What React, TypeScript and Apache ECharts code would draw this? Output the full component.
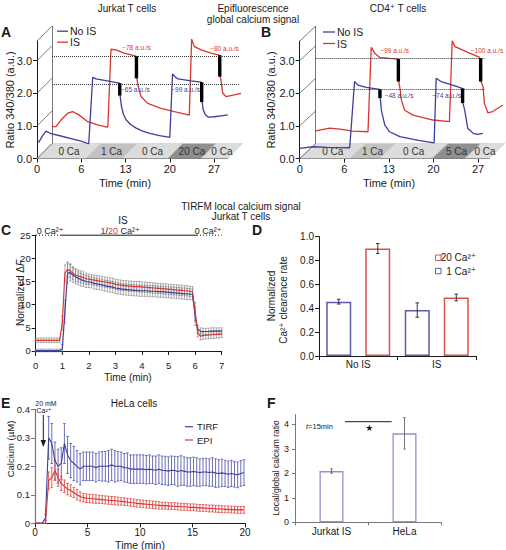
import React, { useEffect, useRef } from 'react';
import * as echarts from 'echarts';

const FONT = '"Liberation Sans", Arial, "DejaVu Sans", sans-serif';
const BLUE = '#3c3f9b';
const RED = '#d8362f';
const INK = '#1a1a1a';

// ---------- Panel A : Jurkat T cells (epifluorescence) ----------
const A_X_TICKS = ['0', '6', '13', '20', '27'];
const A_TICK_POS = [0, 6.5, 13, 19.5, 26];
const A_NO_IS = [[0, 0.53], [0.3, 0.51], [0.84, 0.71], [1.32, 0.84], [2.06, 0.76], [3.5, 0.69], [5, 0.61], [6.46, 0.53], [7.44, 0.46], [7.6, 0.46], [8.18, 2.49], [8.66, 2.44], [10.1, 2.39], [12.1, 2.31], [12.2, 1.93], [12.4, 1.6], [12.7, 1.35], [13.1, 1.18], [13.7, 1.05], [14.5, 0.94], [15.5, 0.84], [16.7, 0.76], [18, 0.7], [19.5, 0.65], [19.9, 2.59], [20.3, 2.5], [20.7, 2.44], [22.6, 2.38], [24.1, 2.34], [24.25, 1.73], [24.4, 1.5], [24.7, 1.35], [25.1, 1.27], [26, 1.28], [27, 1.31], [28, 1.34]];
const A_NO_IS_CLEAR = [[12.15, 2.31, 1.93], [24.18, 2.34, 1.73]];
const A_IS = [[0, 0.52], [0.59, 0.52], [1.32, 0.72], [2.3, 0.93], [3.04, 0.98], [4.0, 0.87], [5.24, 0.67], [6.7, 0.57], [8.08, 0.5], [8.2, 0.52], [8.66, 2.89], [9.4, 2.87], [10.6, 2.77], [12.33, 2.68], [12.45, 2.0], [12.67, 1.74], [13.07, 1.44], [14.05, 1.23], [16.0, 1.08], [17.96, 0.98], [20.16, 0.87], [20.5, 3.2], [20.9, 2.97], [21.9, 2.87], [23.35, 2.77], [24.57, 2.71], [24.7, 2.05], [24.8, 1.95], [25.07, 1.54], [25.55, 1.44], [26.77, 1.49], [27.75, 1.54]];
const A_IS_CLEAR = [[12.4, 2.68, 2.0], [24.63, 2.71, 2.05]];
const A_DOT_LEVELS = [2.68, 1.82];
const A_DOT_END = 27.6;
const A_FLOOR: [number, number, string][] = [[0, 7.2, '0 Ca'], [7.2, 12.5, '1 Ca'], [12.5, 19.2, '0 Ca'], [19.2, 24.1, '20 Ca'], [24.1, 28, '0 Ca']];

// ---------- Panel B : CD4+ T cells ----------
const B_NO_IS = [[0, 0.31], [1.94, 0.36], [4, 0.34], [7.29, 0.33], [8.0, 2.36], [8.5, 2.25], [9.7, 2.18], [11.66, 2.12], [11.75, 1.85], [11.9, 1.49], [12.4, 1.03], [13.1, 0.82], [14.6, 0.67], [17.5, 0.55], [19.6, 0.48], [19.9, 2.46], [20.6, 2.36], [22.3, 2.25], [23.7, 2.15], [23.8, 1.7], [24.05, 1.49], [24.5, 0.93], [25.3, 0.77], [26.0, 0.74], [26.7, 0.77]];
const B_NO_IS_CLEAR = [[11.7, 2.12, 1.85], [23.75, 2.15, 1.7]];
const B_IS = [[0, 0.39], [2.04, 0.47], [3.5, 0.44], [5.44, 0.38], [7.62, 0.36], [8.1, 2.95], [8.6, 2.77], [9.33, 2.64], [10.8, 2.61], [12.0, 2.59], [12.1, 1.9], [12.25, 1.74], [12.5, 1.33], [12.97, 1.02], [14.2, 0.87], [17.1, 0.72], [19.5, 0.67], [19.9, 3.15], [20.3, 2.97], [21.95, 2.82], [23.9, 2.64], [24.1, 1.9], [24.4, 1.74], [24.6, 1.23], [25.1, 0.94], [25.8, 0.98], [27.3, 1.18]];
const B_IS_CLEAR = [[12.05, 2.59, 1.9], [24.05, 2.62, 1.9]];
const B_DOT_LEVELS = [2.61, 1.66];
const B_DOT_END = 24.6;
const B_FLOOR: [number, number, string][] = [[0, 7.3, '0 Ca'], [7.3, 11.6, '1 Ca'], [11.6, 19.3, '0 Ca'], [19.3, 24.1, '5 Ca'], [24.1, 27.6, '0 Ca']];

const DEPTH_TICKS = [0, 1, 2, 3, 3.6];
const AB_Y_TICKS = [0, 1, 2, 3];

// ---------- Panel C : TIRFM local calcium (Jurkat) ----------
const C_TIME = [0, 0.1, 0.2, 0.3, 0.4, 0.5, 0.6, 0.7, 0.8, 0.9, 1.0, 1.1, 1.2, 1.3, 1.4, 1.5, 1.6, 1.7, 1.8, 1.9, 2.0, 2.1, 2.2, 2.3, 2.4, 2.5, 2.6, 2.7, 2.8, 2.9, 3.0, 3.1, 3.2, 3.3, 3.4, 3.5, 3.6, 3.7, 3.8, 3.9, 4.0, 4.1, 4.2, 4.3, 4.4, 4.5, 4.6, 4.7, 4.8, 4.9, 5.0, 5.1, 5.2, 5.3, 5.4, 5.5, 5.6, 5.7, 5.8, 5.9, 6.0, 6.1, 6.2, 6.3, 6.4, 6.5, 6.6, 6.7, 6.8, 6.9, 7.0];
const C_BLUE = [0.1, 0.1, 0.1, 0.1, 0.1, 0.1, 0.1, 0.1, 0.1, 0.1,
  0.4, 8.5, 16.8, 16.9, 16.4, 16.0, 15.7, 15.4, 15.2, 15.0,
  14.9, 14.8, 14.6, 14.5, 14.4, 14.3, 14.1, 14.0, 13.9, 13.8,
  13.6, 13.5, 13.4, 13.3, 13.3, 13.2, 13.2, 13.1, 13.1, 13.0,
  13.0, 13.0, 13.0, 12.9, 12.9, 12.9, 12.8, 12.8, 12.8, 12.7,
  12.7, 12.6, 12.6, 12.5, 12.5, 12.4, 12.4, 12.3, 12.3, 12.2,
  7.5, 4.7, 4.3, 4.2, 4.2, 4.2, 4.3, 4.3, 4.3, 4.3, 4.3];
const C_BLUE_ERR = [0.3, 0.3, 0.3, 0.3, 0.3, 0.3, 0.3, 0.3, 0.3, 0.3,
  1.0, 2.5, 2.2, 1.8, 1.6, 1.5, 1.4, 1.4, 1.3, 1.3,
  1.2, 1.2, 1.2, 1.2, 1.2, 1.2, 1.2, 1.2, 1.2, 1.2,
  1.2, 1.2, 1.2, 1.2, 1.2, 1.2, 1.2, 1.2, 1.2, 1.2,
  1.2, 1.2, 1.2, 1.2, 1.2, 1.2, 1.2, 1.2, 1.2, 1.2,
  1.2, 1.2, 1.2, 1.2, 1.2, 1.2, 1.2, 1.2, 1.2, 1.2,
  2.0, 0.8, 0.7, 0.7, 0.7, 0.7, 0.7, 0.7, 0.7, 0.7, 0.7];
const C_RED = [2.3, 2.3, 2.3, 2.3, 2.3, 2.3, 2.3, 2.3, 2.3, 2.3,
  6.0, 16.8, 17.6, 17.3, 16.8, 16.4, 16.2, 16.0, 15.8, 15.6,
  15.5, 15.4, 15.3, 15.2, 15.1, 15.0, 14.9, 14.8, 14.7, 14.6,
  14.4, 14.3, 14.2, 14.1, 14.1, 14.0, 14.0, 13.9, 13.9, 13.9,
  13.8, 13.8, 13.7, 13.7, 13.6, 13.6, 13.5, 13.5, 13.4, 13.4,
  13.3, 13.3, 13.2, 13.2, 13.1, 13.1, 13.0, 13.0, 12.9, 12.8,
  8.5, 3.8, 3.2, 3.3, 3.4, 3.4, 3.5, 3.5, 3.6, 3.6, 3.7];
const C_RED_ERR = [0.5, 0.5, 0.5, 0.5, 0.5, 0.5, 0.5, 0.5, 0.5, 0.5,
  1.5, 1.8, 1.6, 1.5, 1.4, 1.4, 1.3, 1.3, 1.3, 1.2,
  1.1, 1.1, 1.1, 1.1, 1.1, 1.1, 1.1, 1.1, 1.1, 1.1,
  1.1, 1.1, 1.1, 1.1, 1.1, 1.1, 1.1, 1.1, 1.1, 1.1,
  1.1, 1.1, 1.1, 1.1, 1.1, 1.1, 1.1, 1.1, 1.1, 1.1,
  1.1, 1.1, 1.1, 1.1, 1.1, 1.1, 1.1, 1.1, 1.1, 1.1,
  2.0, 0.8, 0.8, 0.8, 0.8, 0.8, 0.8, 0.8, 0.8, 0.8, 0.8];

// ---------- Panel D : clearance rate ----------
const D_CATS = ['No IS', 'IS'];
const D_1CA = [0.455, 0.385];
const D_1CA_ERR = [0.02, 0.06];
const D_20CA = [0.9, 0.49];
const D_20CA_ERR = [0.042, 0.028];

// ---------- Panel E : HeLa cells ----------
const E_TIME = [0.1, 0.4, 0.7, 1.0, 1.3, 1.6, 1.9, 2.2, 2.5, 2.8, 3.1, 3.4, 3.7, 4.0, 4.3, 4.6, 4.9, 5.2, 5.5, 5.8, 6.1, 6.4, 6.7, 7.0, 7.3, 7.6, 7.9, 8.2, 8.5, 8.8, 9.1, 9.4, 9.7, 10.0, 10.3, 10.6, 10.9, 11.2, 11.5, 11.8, 12.1, 12.4, 12.7, 13.0, 13.3, 13.6, 13.9, 14.2, 14.5, 14.8, 15.1, 15.4, 15.7, 16.0, 16.3, 16.6, 16.9, 17.2, 17.5, 17.8, 18.1, 18.4, 18.7, 19.0, 19.3, 19.6, 19.9];
const E_TIRF = [0, 0, 0, 0.02, 0.30, 0.28, 0.22, 0.20, 0.21, 0.28,
  0.24, 0.22, 0.21, 0.20, 0.19, 0.20, 0.20, 0.20, 0.20, 0.195,
  0.20, 0.20, 0.20, 0.20, 0.205, 0.20, 0.20, 0.20, 0.195, 0.195,
  0.19, 0.19, 0.19, 0.19, 0.19, 0.188, 0.19, 0.188, 0.186, 0.19,
  0.186, 0.185, 0.183, 0.186, 0.185, 0.182, 0.185, 0.183, 0.18, 0.18,
  0.182, 0.18, 0.178, 0.18, 0.18, 0.178, 0.18, 0.176, 0.175, 0.177,
  0.175, 0.172, 0.175, 0.172, 0.17, 0.175, 0.178];
const E_TIRF_ERR = [0, 0, 0, 0.01, 0.075, 0.07, 0.065, 0.06, 0.055, 0.07,
  0.065, 0.06, 0.06, 0.055, 0.055, 0.05, 0.05, 0.05, 0.05, 0.05,
  0.05, 0.052, 0.052, 0.055, 0.055, 0.055, 0.052, 0.05, 0.05, 0.052,
  0.05, 0.05, 0.05, 0.05, 0.05, 0.05, 0.05, 0.048, 0.05, 0.05,
  0.05, 0.05, 0.05, 0.05, 0.05, 0.052, 0.052, 0.05, 0.05, 0.05,
  0.05, 0.05, 0.048, 0.048, 0.048, 0.048, 0.05, 0.05, 0.048, 0.048,
  0.046, 0.046, 0.046, 0.045, 0.045, 0.045, 0.045];
const E_EPI = [0, 0, 0, 0, 0.15, 0.16, 0.185, 0.16, 0.14, 0.13,
  0.12, 0.115, 0.108, 0.10, 0.094, 0.09, 0.088, 0.087, 0.086, 0.085,
  0.084, 0.083, 0.082, 0.081, 0.08, 0.079, 0.078, 0.077, 0.076, 0.075,
  0.073, 0.072, 0.07, 0.069, 0.068, 0.067, 0.066, 0.065, 0.064, 0.063,
  0.062, 0.062, 0.061, 0.06, 0.06, 0.059, 0.058, 0.058, 0.057, 0.056,
  0.056, 0.055, 0.054, 0.054, 0.053, 0.052, 0.052, 0.051, 0.05, 0.05,
  0.049, 0.049, 0.048, 0.048, 0.047, 0.047, 0.047];
const E_EPI_ERR = [0, 0, 0, 0, 0.03, 0.035, 0.035, 0.03, 0.025, 0.022,
  0.02, 0.02, 0.018, 0.018, 0.016, 0.015, 0.015, 0.015, 0.015, 0.015,
  0.014, 0.014, 0.014, 0.014, 0.014, 0.014, 0.014, 0.013, 0.013, 0.013,
  0.013, 0.013, 0.013, 0.013, 0.013, 0.013, 0.013, 0.013, 0.013, 0.013,
  0.012, 0.012, 0.012, 0.012, 0.012, 0.012, 0.012, 0.012, 0.012, 0.012,
  0.012, 0.012, 0.012, 0.012, 0.012, 0.012, 0.012, 0.012, 0.012, 0.012,
  0.012, 0.012, 0.012, 0.012, 0.012, 0.012, 0.012];

// ---------- Panel F : local/global ratio ----------
const F_CATS = ['Jurkat IS', 'HeLa'];
const F_VALUES = [2.09, 3.63];
const F_ERR = [0.09, 0.64];

// ---------- helpers ----------
const T = (x: number, y: number, text: string, o: any = {}) => ({
  type: 'text', x, y, rotation: o.rot || 0, silent: true, z: 100,
  style: {
    text, fill: o.color || INK, fontSize: o.size || 10, fontFamily: FONT,
    fontWeight: o.bold ? 'bold' : 'normal', fontStyle: o.italic ? 'italic' : 'normal',
    align: o.align || 'center', verticalAlign: 'middle', rich: o.rich,
  },
});
const L = (x1: number, y1: number, x2: number, y2: number, o: any = {}) => ({
  type: 'line', silent: true, z: 100, shape: { x1, y1, x2, y2 },
  style: { stroke: o.color || INK, lineWidth: o.w || 1, lineDash: o.dash },
});

const shadeFor = (label: string) => (label.startsWith('0 ') ? '#dcdcdc' : label.startsWith('1 ') ? '#c2c2c2' : '#8f8f8f');

function floorRender(segs: [number, number, string][], dx: number, dy: number) {
  return (params: any, api: any) => {
    const s = segs[params.dataIndex];
    const p0 = api.coord([s[0], 0]);
    const p1 = api.coord([s[1], 0]);
    return {
      type: 'group',
      children: [
        { type: 'polygon', shape: { points: [[p0[0], p0[1]], [p1[0], p1[1]], [p1[0] + dx, p1[1] - dy], [p0[0] + dx, p0[1] - dy]] }, style: { fill: shadeFor(s[2]), stroke: '#bbbbbb', lineWidth: 0.4 } },
        { type: 'text', x: (p0[0] + p1[0]) / 2 + dx / 2, y: p0[1] - dy / 2, style: { text: s[2], fill: '#333', fontSize: 10, fontFamily: FONT, align: 'center', verticalAlign: 'middle' } },
      ],
    };
  };
}
function depthRender(dx: number, dy: number) {
  return (params: any, api: any) => {
    const p = api.coord([0, api.value(1)]);
    return { type: 'line', shape: { x1: p[0], y1: p[1], x2: p[0] + dx, y2: p[1] - dy }, style: { stroke: '#444', lineWidth: 0.7 } };
  };
}
function clearRender(params: any, api: any) {
  const a = api.coord([api.value(0), api.value(1)]);
  const b = api.coord([api.value(0), api.value(2)]);
  return { type: 'line', shape: { x1: a[0], y1: a[1], x2: b[0], y2: b[1] }, style: { stroke: '#000', lineWidth: 3.4 } };
}
function errRender(offset: number, cap: number, color: string, lw: number) {
  return (params: any, api: any) => {
    const a = api.coord([api.value(0), api.value(1)]);
    const b = api.coord([api.value(0), api.value(2)]);
    const cx = a[0] + offset;
    const st = { stroke: color, lineWidth: lw };
    return {
      type: 'group', children: [
        { type: 'line', shape: { x1: cx, y1: a[1], x2: cx, y2: b[1] }, style: st },
        { type: 'line', shape: { x1: cx - cap, y1: a[1], x2: cx + cap, y2: a[1] }, style: st },
        { type: 'line', shape: { x1: cx - cap, y1: b[1], x2: cx + cap, y2: b[1] }, style: st },
      ],
    };
  };
}

const axisLineStyle = { show: true, lineStyle: { color: INK, width: 1 } };
const tickStyle = (len = 4) => ({ show: true, length: len, lineStyle: { color: INK, width: 1 } });
const lbl = (size: number, margin: number, extra: any = {}) => ({ fontSize: size, fontFamily: FONT, color: INK, margin, ...extra });

function abXAxis(grid: number, max: number) {
  return {
    type: 'value', gridIndex: grid, min: 0, max,
    axisLine: axisLineStyle,
    axisTick: { ...tickStyle(4), customValues: A_TICK_POS },
    axisLabel: lbl(11, 5, { customValues: A_TICK_POS, formatter: (v: number) => A_X_TICKS[Math.round(v / 6.5)] }),
    splitLine: { show: false },
  };
}
function abYAxis(grid: number) {
  return {
    type: 'value', gridIndex: grid, min: 0, max: 3.6,
    axisLine: axisLineStyle,
    axisTick: { ...tickStyle(4), customValues: AB_Y_TICKS },
    axisLabel: lbl(11, 5, { customValues: AB_Y_TICKS, formatter: (v: number) => v.toFixed(1) }),
    splitLine: { show: false },
  };
}
const hiddenX = (grid: number, max: number) => ({ type: 'value', gridIndex: grid, min: 0, max, show: false });
const backY = (grid: number) => ({
  type: 'value', gridIndex: grid, min: 0, max: 3.6,
  axisLine: { show: true, lineStyle: { color: '#666', width: 1, type: 'dotted' } },
  axisTick: { show: false }, axisLabel: { show: false }, splitLine: { show: false },
});

function abSeries(xf: number, xb: number, floor: [number, number, string][], dx: number, dy: number,
  noIs: number[][], noIsClear: number[][], is: number[][], isClear: number[][], dots: number[], dotEnd: number) {
  return [
    { type: 'custom', xAxisIndex: xf, yAxisIndex: xf, z: 1, silent: true, renderItem: floorRender(floor, dx, dy), data: floor.map((s) => [s[0], s[1]]) },
    { type: 'custom', xAxisIndex: xf, yAxisIndex: xf, z: 2, silent: true, renderItem: depthRender(dx, dy), data: DEPTH_TICKS.map((v) => [0, v]) },
    {
      type: 'line', name: 'IS', xAxisIndex: xb, yAxisIndex: xb, z: 3, silent: true, showSymbol: false, symbol: 'none',
      lineStyle: { color: RED, width: 1.3 }, itemStyle: { color: RED }, data: is,
      markLine: {
        silent: true, symbol: 'none', label: { show: false }, animation: false,
        lineStyle: { type: 'dotted', color: '#333', width: 1 },
        data: dots.map((l) => [{ coord: [0, l] }, { coord: [dotEnd, l] }]),
      },
    },
    { type: 'custom', xAxisIndex: xb, yAxisIndex: xb, z: 4, silent: true, renderItem: clearRender, data: isClear },
    {
      type: 'line', name: 'No IS', xAxisIndex: xf, yAxisIndex: xf, z: 5, silent: true, showSymbol: false, symbol: 'none',
      lineStyle: { color: BLUE, width: 1.3 }, itemStyle: { color: BLUE }, data: noIs,
    },
    { type: 'custom', xAxisIndex: xf, yAxisIndex: xf, z: 6, silent: true, renderItem: clearRender, data: noIsClear },
  ];
}

function buildOption(): any {
  const grids = [
    { left: 37, top: 41.1, width: 190.7, height: 117.4 },
    { left: 52, top: 26.1, width: 190.7, height: 117.4 },
    { left: 299.7, top: 41.1, width: 189.3, height: 117.4 },
    { left: 315.7, top: 26.1, width: 189.3, height: 117.4 },
    { left: 35.7, top: 235.2, width: 186, height: 120.4 },
    { left: 319, top: 236.6, width: 157, height: 119.4 },
    { left: 35, top: 409.3, width: 210, height: 114 },
    { left: 295, top: 414.5, width: 146, height: 107.8 },
  ].map((g) => ({ ...g, containLabel: false, outerBoundsMode: 'none' }));

  const xAxis = [
    abXAxis(0, 28), hiddenX(1, 28), abXAxis(2, 27.6), hiddenX(3, 27.6),
    { type: 'value', gridIndex: 4, min: 0, max: 7, interval: 1, axisLine: axisLineStyle, axisTick: tickStyle(4), axisLabel: lbl(9.5, 5), splitLine: { show: false } },
    { type: 'category', gridIndex: 5, data: D_CATS, axisLine: axisLineStyle, axisTick: tickStyle(4), axisLabel: lbl(10, 3), splitLine: { show: false } },
    { type: 'value', gridIndex: 6, min: 0, max: 20, interval: 5, axisLine: axisLineStyle, axisTick: tickStyle(4), axisLabel: lbl(10, 4), splitLine: { show: false } },
    { type: 'category', gridIndex: 7, data: F_CATS, axisLine: { show: true, lineStyle: { color: '#777', width: 1 } }, axisTick: { show: true, length: 3, lineStyle: { color: '#777' } }, axisLabel: lbl(10, 4), splitLine: { show: false } },
  ];
  const yAxis = [
    abYAxis(0), backY(1), abYAxis(2), backY(3),
    { type: 'value', gridIndex: 4, min: -1, max: 25, axisLine: axisLineStyle, axisTick: { ...tickStyle(4), customValues: [0, 5, 10, 15, 20, 25] }, axisLabel: lbl(9.5, 5, { customValues: [0, 5, 10, 15, 20, 25] }), splitLine: { show: false } },
    { type: 'value', gridIndex: 5, min: 0, max: 1, interval: 0.2, axisLine: axisLineStyle, axisTick: tickStyle(4), axisLabel: lbl(10, 5, { formatter: (v: number) => v.toFixed(1) }), splitLine: { show: false } },
    { type: 'value', gridIndex: 6, min: 0, max: 0.4, interval: 0.1, axisLine: { show: true, lineStyle: { color: '#777', width: 1.2 } }, axisTick: { show: true, length: 4, lineStyle: { color: '#777' } }, axisLabel: lbl(9.5, 5, { formatter: (v: number) => (v === 0 ? '0' : v.toFixed(1)) }), splitLine: { show: false } },
    { type: 'value', gridIndex: 7, min: 0, max: 4.4, axisLine: { show: true, lineStyle: { color: '#777', width: 1 } }, axisTick: { show: true, length: 3, lineStyle: { color: '#777' }, customValues: [0, 1, 2, 3, 4] }, axisLabel: lbl(9, 6, { customValues: [0, 1, 2, 3, 4] }), splitLine: { show: false } },
  ];

  const cErr = (vals: number[], errs: number[]) => C_TIME.map((t, i) => [t, vals[i] - errs[i], vals[i] + errs[i]]);
  const eErr = (vals: number[], errs: number[]) => E_TIME.map((t, i) => [t, vals[i] - errs[i], vals[i] + errs[i]]);
  const D_OFF = (25 + 14) / 2;

  const series: any[] = [
    ...abSeries(0, 1, A_FLOOR, 15, 15, A_NO_IS, A_NO_IS_CLEAR, A_IS, A_IS_CLEAR, A_DOT_LEVELS, A_DOT_END),
    ...abSeries(2, 3, B_FLOOR, 16, 15, B_NO_IS, B_NO_IS_CLEAR, B_IS, B_IS_CLEAR, B_DOT_LEVELS, B_DOT_END),
    // C
    { type: 'custom', xAxisIndex: 4, yAxisIndex: 4, silent: true, z: 2, renderItem: errRender(0, 1.2, '#777', 0.6), data: cErr(C_BLUE, C_BLUE_ERR) },
    { type: 'custom', xAxisIndex: 4, yAxisIndex: 4, silent: true, z: 2, renderItem: errRender(0, 1.2, '#777', 0.6), data: cErr(C_RED, C_RED_ERR) },
    { type: 'line', name: '1 Ca', xAxisIndex: 4, yAxisIndex: 4, silent: true, z: 3, showSymbol: false, symbol: 'none', lineStyle: { color: BLUE, width: 1.2 }, data: C_TIME.map((t, i) => [t, C_BLUE[i]]) },
    { type: 'line', name: '20 Ca', xAxisIndex: 4, yAxisIndex: 4, silent: true, z: 3, showSymbol: false, symbol: 'none', lineStyle: { color: RED, width: 1.2 }, data: C_TIME.map((t, i) => [t, C_RED[i]]) },
    // D
    { type: 'bar', name: '1 Ca²⁺', xAxisIndex: 5, yAxisIndex: 5, silent: true, barWidth: 25, barGap: '56%', itemStyle: { color: '#fff', borderColor: '#5a5ca8', borderWidth: 1.5 }, data: D_1CA },
    { type: 'bar', name: '20 Ca²⁺', xAxisIndex: 5, yAxisIndex: 5, silent: true, barWidth: 25, barGap: '56%', itemStyle: { color: '#fff', borderColor: '#d9534f', borderWidth: 1.5 }, data: D_20CA },
    { type: 'custom', xAxisIndex: 5, yAxisIndex: 5, silent: true, z: 5, renderItem: errRender(-D_OFF, 1.8, '#222', 0.9), data: D_1CA.map((v, i) => [i, v - D_1CA_ERR[i], v + D_1CA_ERR[i]]) },
    { type: 'custom', xAxisIndex: 5, yAxisIndex: 5, silent: true, z: 5, renderItem: errRender(D_OFF, 1.8, '#222', 0.9), data: D_20CA.map((v, i) => [i, v - D_20CA_ERR[i], v + D_20CA_ERR[i]]) },
    // E
    { type: 'custom', xAxisIndex: 6, yAxisIndex: 6, silent: true, z: 2, renderItem: errRender(0, 1.3, '#5a5fb0', 0.9), data: eErr(E_TIRF, E_TIRF_ERR) },
    { type: 'line', name: 'TIRF', xAxisIndex: 6, yAxisIndex: 6, silent: true, z: 3, showSymbol: false, symbol: 'none', lineStyle: { color: BLUE, width: 1.1 }, data: E_TIME.map((t, i) => [t, E_TIRF[i]]) },
    { type: 'custom', xAxisIndex: 6, yAxisIndex: 6, silent: true, z: 2, renderItem: errRender(0, 1.3, '#e0514b', 0.9), data: eErr(E_EPI, E_EPI_ERR) },
    { type: 'line', name: 'EPI', xAxisIndex: 6, yAxisIndex: 6, silent: true, z: 3, showSymbol: false, symbol: 'none', lineStyle: { color: RED, width: 1.1 }, data: E_TIME.map((t, i) => [t, E_EPI[i]]) },
    // F
    { type: 'bar', name: 'ratio', xAxisIndex: 7, yAxisIndex: 7, silent: true, barWidth: 24, itemStyle: { color: '#fff', borderColor: '#9193c9', borderWidth: 1.3 }, data: F_VALUES },
    { type: 'custom', xAxisIndex: 7, yAxisIndex: 7, silent: true, z: 5, renderItem: errRender(0, 1.2, '#555', 0.8), data: F_VALUES.map((v, i) => [i, v - F_ERR[i], v + F_ERR[i]]) },
  ];

  const R = Math.PI / 2;
  const rs = (size: number, extra: any = {}) => ({ fontSize: size, fontFamily: FONT, fill: INK, ...extra });
  const graphic = [
    T(127, 8, 'Jurkat T cells', { size: 10 }),
    T(253, 8, 'Epifluorescence', { size: 10 }),
    T(253, 19, 'global calcium signal', { size: 10 }),
    T(398, 8, 'CD4⁺ T cells', { size: 10 }),
    T(1, 32, 'A', { size: 14, bold: true, align: 'left' }),
    T(261, 32, 'B', { size: 14, bold: true, align: 'left' }),
    L(57, 31.2, 68, 31.2, { color: BLUE, w: 1.3 }), T(70, 31.2, 'No IS', { size: 10.5, align: 'left' }),
    L(57, 42.2, 68, 42.2, { color: RED, w: 1.3 }), T(70, 42.2, 'IS', { size: 10.5, align: 'left' }),
    L(323, 32, 335, 32, { color: BLUE, w: 1.3 }), T(337, 32, 'No IS', { size: 10.5, align: 'left' }),
    L(323, 43.5, 335, 43.5, { color: RED, w: 1.3 }), T(337, 43.5, 'IS', { size: 10.5, align: 'left' }),
    T(121, 89, '−65 a.u./s', { size: 6.5, color: BLUE, align: 'left' }),
    T(200, 89, '−99 a.u./s', { size: 6.5, color: BLUE, align: 'right' }),
    T(136.5, 47.7, '−78 a.u./s', { size: 6.5, color: RED }),
    T(224.5, 48, '−80 a.u./s', { size: 6.5, color: RED }),
    T(394.7, 50.7, '−99 a.u./s', { size: 6.5, color: RED }),
    T(487, 50.7, '−100 a.u./s', { size: 6.5, color: RED }),
    T(384.7, 95, '−48 a.u./s', { size: 6.5, color: BLUE, align: 'left' }),
    T(461, 95, '−74 a.u./s', { size: 6.5, color: BLUE, align: 'right' }),
    T(125, 182.7, 'Time (min)', { size: 11 }),
    T(10, 100, 'Ratio 340/380 (a.u.)', { size: 11, rot: R }),
    T(389, 182.7, 'Time (min)', { size: 11 }),
    T(271.3, 100, 'Ratio 340/380 (a.u.)', { size: 11, rot: R }),
    T(241, 206.7, 'TIRFM local calcium signal', { size: 10 }),
    T(241, 216.7, 'Jurkat T cells', { size: 10 }),
    T(1, 230, 'C', { size: 14, bold: true, align: 'left' }),
    T(252, 230, 'D', { size: 14, bold: true, align: 'left' }),
    T(123, 220, 'IS', { size: 10 }),
    T(50, 230.5, '0 Ca²⁺', { size: 9 }),
    T(120, 230.5, '{b|1}{k|/}{r|20}{k| Ca²⁺}', { size: 9, rich: { b: rs(9, { fill: BLUE }), r: rs(9, { fill: RED }), k: rs(9) } }),
    T(208, 230.5, '0 Ca²⁺', { size: 9 }),
    L(60, 235.2, 197, 235.2, { w: 1 }),
    L(36, 235.2, 60, 235.2, { w: 1, dash: [1, 2] }),
    L(197, 235.2, 221.7, 235.2, { w: 1, dash: [1, 2] }),
    T(128, 377.7, 'Time (min)', { size: 10 }),
    T(20, 293, '{k|Normalized Δ}{i|F}', { size: 10, rot: R, rich: { k: rs(10), i: rs(10, { fontStyle: 'italic' }) } }),
    T(271.7, 296, 'Normalized', { size: 10, rot: R }),
    T(283, 300, 'Ca²⁺ clearance rate', { size: 10, rot: R }),
    { type: 'rect', silent: true, z: 100, shape: { x: 435.5, y: 255, width: 5.5, height: 5.5 }, style: { fill: 'none', stroke: '#d9534f', lineWidth: 1 } },
    T(476, 257.7, '20 Ca²⁺', { size: 10, align: 'right' }),
    { type: 'rect', silent: true, z: 100, shape: { x: 435.5, y: 268.3, width: 5.5, height: 5.5 }, style: { fill: 'none', stroke: '#5a5ca8', lineWidth: 1 } },
    T(476, 271, '1 Ca²⁺', { size: 10, align: 'right' }),
    T(1, 403, 'E', { size: 14, bold: true, align: 'left' }),
    T(134, 403, 'HeLa cells', { size: 10 }),
    T(46, 403, '20 mM', { size: 7 }),
    T(44, 410, 'Ca²⁺', { size: 7 }),
    L(43.3, 415, 43.3, 442, { w: 1 }),
    { type: 'polygon', silent: true, z: 100, shape: { points: [[40.6, 440], [46, 440], [43.3, 447]] }, style: { fill: INK } },
    L(185, 426.7, 193, 426.7, { color: BLUE, w: 1.2 }), T(197, 426.7, 'TIRF', { size: 9.5, align: 'left' }),
    L(185, 440, 193, 440, { color: RED, w: 1.2 }), T(197, 440, 'EPI', { size: 9.5, align: 'left' }),
    T(140, 545, 'Time (min)', { size: 10.5 }),
    T(10, 449, 'Calcium (µM)', { size: 9.5, rot: R }),
    T(267, 403, 'F', { size: 14, bold: true, align: 'left' }),
    T(276, 468, 'Local/global calcium ratio', { size: 8.5, rot: R }),
    T(306, 426, '{i|t}{k|=15min}', { size: 7.5, align: 'left', rich: { i: rs(7.5, { fontStyle: 'italic' }), k: rs(7.5) } }),
    L(345, 421.7, 391.7, 421.7, { w: 1 }),
    T(369.3, 428, '★', { size: 9 }),
  ];

  return { animation: false, backgroundColor: '#fff', grid: grids, xAxis, yAxis, series, graphic };
}

export default function App() {
  const ref = useRef<HTMLDivElement>(null);
  useEffect(() => {
    document.body.style.margin = '0';
    const chart = echarts.init(ref.current!, null, { renderer: 'svg' });
    chart.setOption(buildOption());
    return () => chart.dispose();
  }, []);
  return <div ref={ref} style={{ position: 'absolute', left: 0, top: 0, width: 506, height: 550, background: '#fff' }} />;
}
